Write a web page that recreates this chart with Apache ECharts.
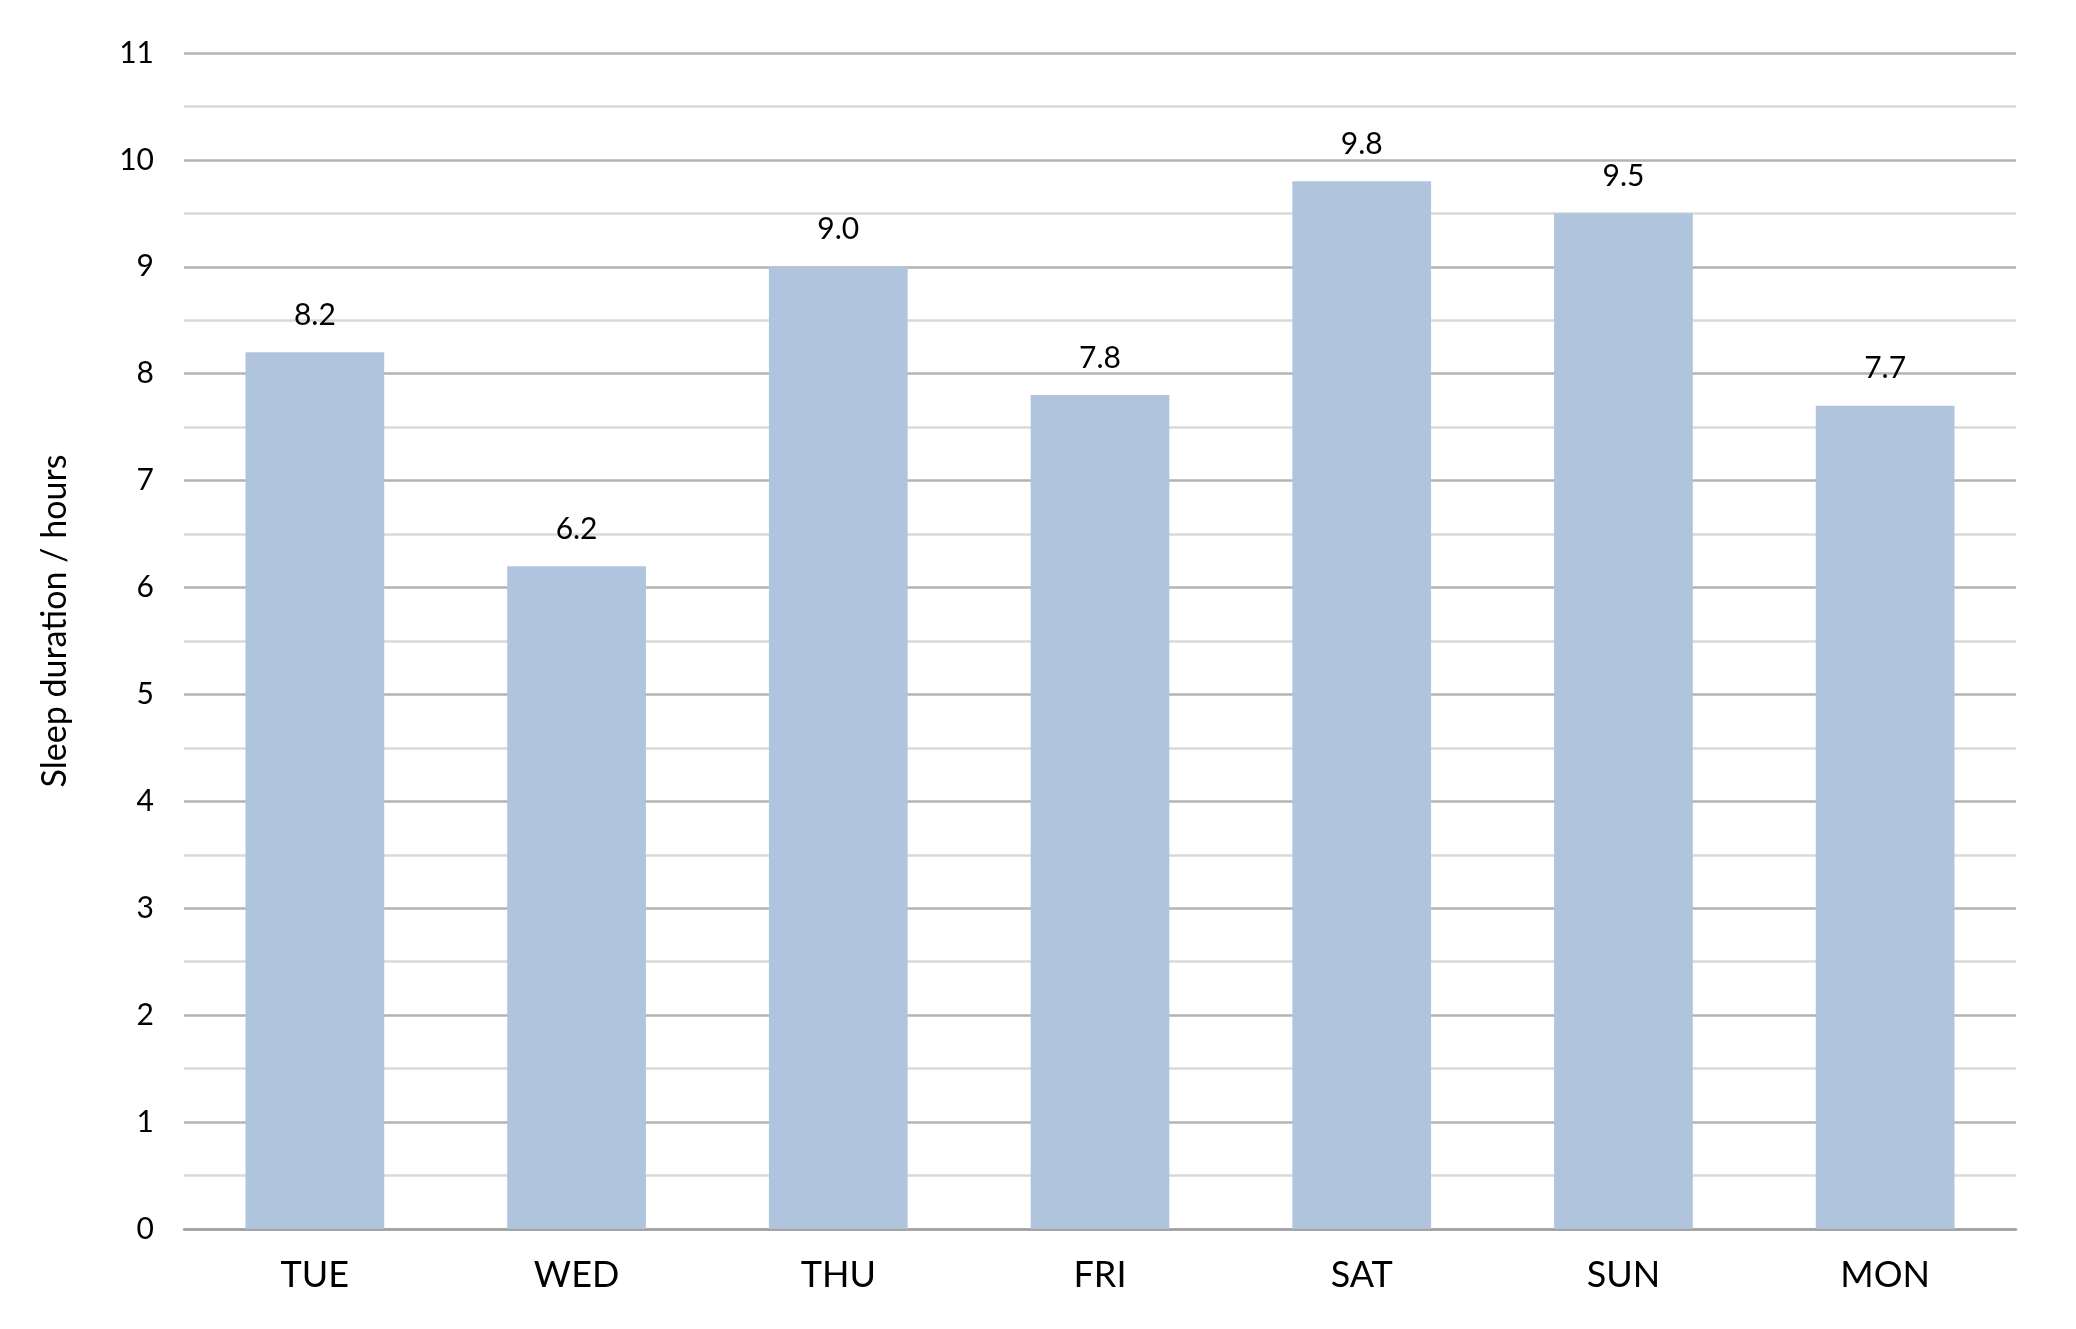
<!DOCTYPE html>
<html>
<head>
<meta charset="utf-8">
<script src="https://cdn.jsdelivr.net/npm/echarts@6/dist/echarts.min.js"></script>
<style>
  html, body { margin: 0; padding: 0; background: #fff; }
  #chart { width: 2076px; height: 1329px; }
</style>
</head>
<body>
<div id="chart"></div>
<script>
const days = ['TUE', 'WED', 'THU', 'FRI', 'SAT', 'SUN', 'MON']
const sleepHours = [8.2, 6.2, 9.0, 7.8, 9.8, 9.5, 7.7]
const yTicks = [0, 1, 2, 3, 4, 5, 6, 7, 8, 9, 10, 11]

const font = 'Lato'
const chart = echarts.init(document.getElementById('chart'))

const option = {
  animation: false,
  grid: {
    left: 184,
    right: 60,
    top: 53,
    bottom: 100
  },
  xAxis: {
    type: 'category',
    data: days,
    axisTick: { show: false },
    axisLine: { lineStyle: { color: '#a0a0a0', width: 2.5 } },
    axisLabel: {
      margin: 28,
      color: '#000',
      fontFamily: font,
      fontSize: 36
    }
  },
  yAxis: {
    type: 'value',
    min: yTicks[0],
    max: yTicks[yTicks.length - 1],
    interval: 1,
    name: 'Sleep duration / hours',
    nameLocation: 'middle',
    nameGap: 112,
    nameTextStyle: {
      color: '#000',
      fontFamily: font,
      fontSize: 34,
      padding: [0, 0, 0, 40]
    },
    axisLine: { show: false },
    axisTick: { show: false },
    axisLabel: {
      margin: 30,
      color: '#000',
      fontFamily: font,
      fontSize: 30
    },
    splitLine: { lineStyle: { color: '#b3b3b3', width: 2.5 } },
    minorTick: { show: false, splitNumber: 2 },
    minorSplitLine: { show: true, lineStyle: { color: '#d9d9d9', width: 2.5 } }
  },
  series: [{
    type: 'bar',
    data: sleepHours,
    barWidth: '53%',
    itemStyle: { color: '#b0c4de' },
    label: {
      show: true,
      position: 'top',
      distance: 22,
      color: '#000',
      fontFamily: font,
      fontSize: 30,
      formatter: p => p.value.toFixed(1)
    }
  }]
}

chart.setOption(option)
</script>
</body>
</html>
